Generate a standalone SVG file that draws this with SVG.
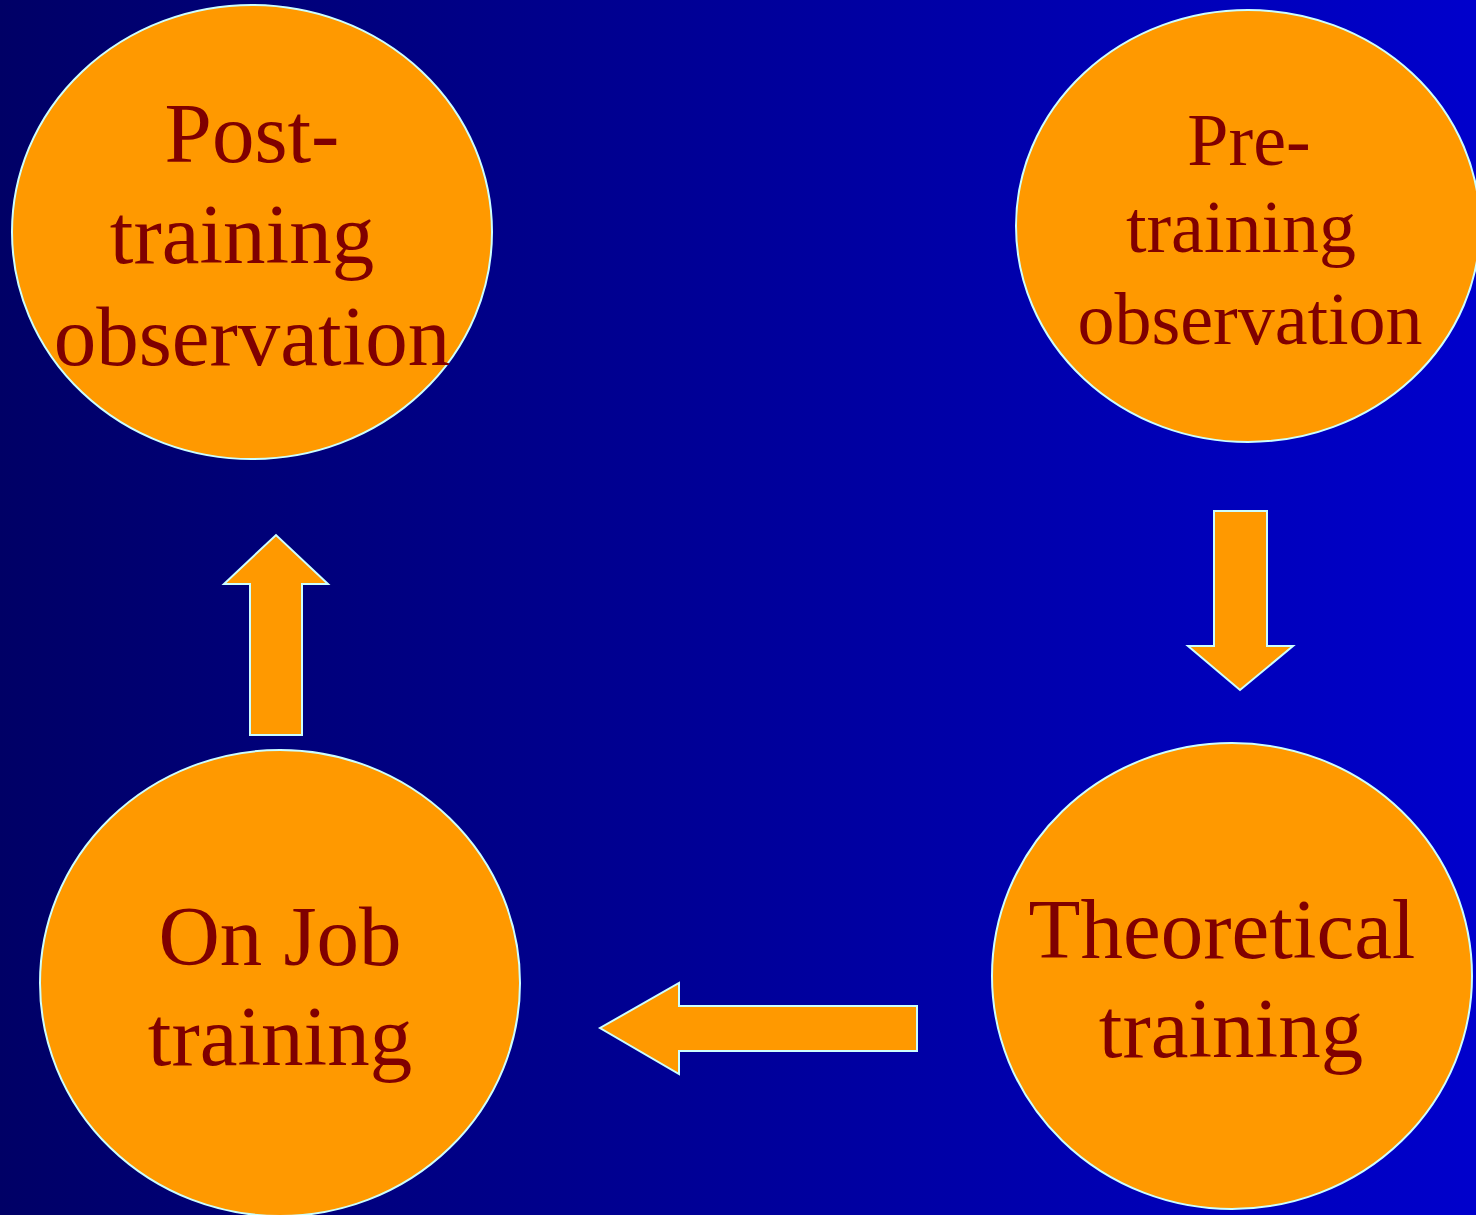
<svg xmlns="http://www.w3.org/2000/svg" width="1476" height="1215" viewBox="0 0 1476 1215">
  <defs>
    <linearGradient id="bg" x1="0" y1="0" x2="1" y2="0">
      <stop offset="0" stop-color="#000066"/>
      <stop offset="1" stop-color="#0000CC"/>
    </linearGradient>
  </defs>
  <style>
    .node { fill: #FF9900; stroke: #CCFFFF; stroke-width: 2; }
    .arrow { fill: #FF9900; stroke: #CCFFFF; stroke-width: 2; stroke-linejoin: miter; }
    .label { fill: #800000; font-family: "Liberation Serif", "Times New Roman", serif; text-anchor: middle; }
  </style>
  <rect x="0" y="0" width="1476" height="1215" fill="url(#bg)"/>

  <g id="post-training-observation">
    <ellipse class="node" cx="252" cy="232" rx="240" ry="227"/>
    <text class="label" font-size="85" x="252" y="162">Post-</text>
    <text class="label" font-size="85" x="242" y="263">training</text>
    <text class="label" font-size="85" x="252" y="365">observation</text>
  </g>

  <g id="pre-training-observation">
    <ellipse class="node" cx="1248" cy="226" rx="232" ry="216"/>
    <text class="label" font-size="74" x="1249" y="165">Pre-</text>
    <text class="label" font-size="74" x="1241" y="252">training</text>
    <text class="label" font-size="74" x="1250" y="344">observation</text>
  </g>

  <g id="theoretical-training">
    <ellipse class="node" cx="1232" cy="976" rx="240" ry="233"/>
    <text class="label" font-size="85" x="1222" y="958">Theoretical</text>
    <text class="label" font-size="85" x="1231" y="1057">training</text>
  </g>

  <g id="on-job-training">
    <ellipse class="node" cx="280" cy="983" rx="240" ry="233"/>
    <text class="label" font-size="85" x="280" y="965">On Job</text>
    <text class="label" font-size="85" x="280" y="1065">training</text>
  </g>

  <g id="connectors">
    <!-- pre-training -> theoretical -->
    <polygon class="arrow" points="1214,511 1267,511 1267,646 1293,646 1240,690 1188,646 1214,646"/>
    <!-- theoretical -> on job -->
    <polygon class="arrow" points="917,1006 917,1051 679,1051 679,1074 600,1028 679,983 679,1006"/>
    <!-- on job -> post-training -->
    <polygon class="arrow" points="250,735 302,735 302,584 328,584 276,535 224,584 250,584"/>
  </g>
</svg>
